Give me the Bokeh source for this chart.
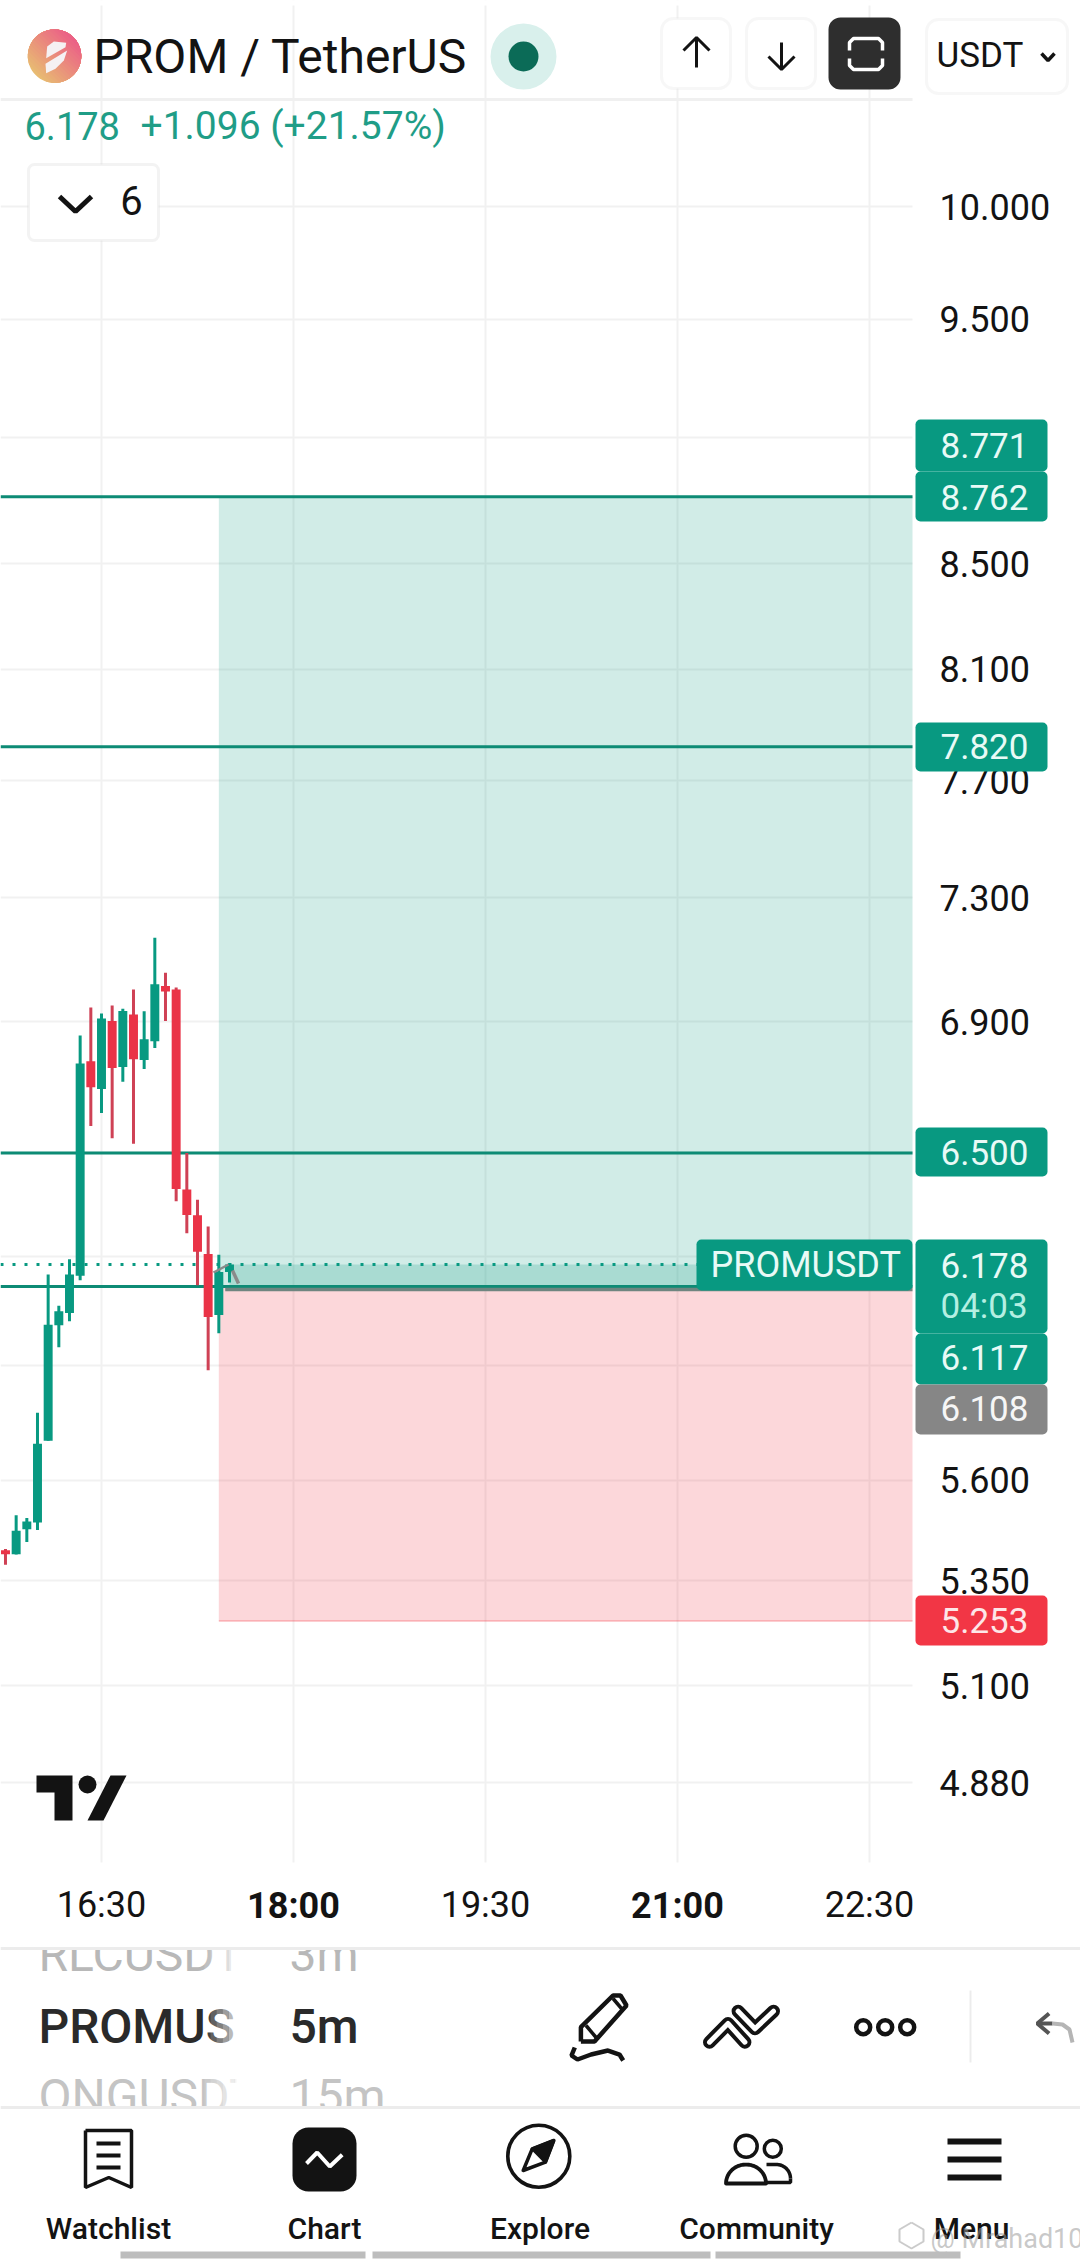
import numpy as np
from bokeh.core.properties import value
from bokeh.embed import file_html
from bokeh.models import (BoxAnnotation, FixedTicker, Label, LinearScale, PrintfTickFormatter, Range1d)
from bokeh.plotting import figure
from bokeh.resources import INLINE

# ---- chart values ----
times = ["15:45", "15:50", "15:55", "16:00", "16:05", "16:10", "16:15", "16:20", "16:25", "16:30", "16:35",
         "16:40", "16:45", "16:50", "16:55", "17:00", "17:05", "17:10", "17:15", "17:20", "17:25", "17:30"]
opens = [5.425, 5.415, 5.477, 5.494, 5.702, 6.010, 6.043, 6.147, 6.777, 6.692, 6.902,
         6.759, 6.923, 6.781, 6.839, 7.013, 7.002, 6.393, 6.318, 6.208, 6.038, 6.157]
highs = [5.428, 5.512, 5.505, 5.775, 6.150, 6.063, 6.193, 6.857, 6.945, 6.926, 6.951,
         6.941, 7.002, 6.933, 7.169, 7.056, 7.008, 6.500, 6.363, 6.286, 6.206, 6.182]
lows = [5.389, 5.414, 5.445, 5.475, 5.702, 5.950, 6.021, 6.134, 6.580, 6.619, 6.544,
        6.714, 6.527, 6.753, 6.818, 6.902, 6.359, 6.267, 6.120, 5.888, 5.988, 6.128]
closes = [5.415, 5.473, 5.496, 5.694, 6.011, 6.048, 6.150, 6.770, 6.697, 6.910, 6.756,
          6.934, 6.783, 6.845, 7.019, 6.996, 6.394, 6.319, 6.214, 6.032, 6.157, 6.178]

price_ticks = [10.0, 9.5, 9.0, 8.5, 8.1, 7.7, 7.3, 6.9, 6.5, 6.2, 5.9, 5.6, 5.35, 5.1, 4.88]
time_ticks = ["16:30", "18:00", "19:30", "21:00", "22:30"]
bold_time_ticks = ["18:00", "21:00"]

target_levels = [8.762, 7.820, 6.500, 6.117]
last_price = 6.178
entry_price = 6.117
avg_price = 6.108
target_price = 8.762
stop_price = 5.253
position_start = "17:25"
position_now = "17:30"

GREEN = "#089981"
RED = "#F23645"
LINE = "#0d8b75"
GRID = "#f1f1f1"
K = "#131313"
FONT = "Roboto"
FONT_M = "Roboto Medium"


def minutes(t):
    h, m = t.split(":")
    return int(h) * 60 + int(m)


xs = [minutes(t) for t in times]
up = [c >= o for o, c in zip(opens, closes)]

X_RIGHT = 1370.16   # time at the right edge of the plotting area
Y_BOTTOM = 4.7059   # price at the bottom edge of the plotting area

p = figure(width=1080, height=2261, output_backend="svg", toolbar_location=None,
           y_axis_type="log", y_axis_location="right",
           x_range=Range1d(942.66, 1448.91), y_range=Range1d(3.9245, 10.983),
           min_border_left=0, min_border_top=0, min_border_right=0, min_border_bottom=0,
           background_fill_color="white", border_fill_color="white", outline_line_color=None)

p.yaxis.fixed_location = X_RIGHT
p.xaxis.fixed_location = Y_BOTTOM
p.yaxis.ticker = FixedTicker(ticks=price_ticks)
p.yaxis.formatter = PrintfTickFormatter(format="%.3f")
p.yaxis.major_label_text_font = FONT
p.yaxis.major_label_text_font_size = "36px"
p.yaxis.major_label_text_color = K
p.yaxis.major_label_standoff = 21
p.xaxis.ticker = FixedTicker(ticks=[minutes(t) for t in time_ticks])
p.xaxis.major_label_overrides = {minutes(t): ("" if t in bold_time_ticks else t) for t in time_ticks}
p.xaxis.major_label_text_font = FONT
p.xaxis.major_label_text_font_size = "36px"
p.xaxis.major_label_text_color = K
p.xaxis.major_label_standoff = 15
for ax in (p.xaxis, p.yaxis):
    ax.axis_line_color = None
    ax.major_tick_line_color = None
    ax.minor_tick_line_color = None
for g in (p.xgrid, p.ygrid):
    g.grid_line_color = GRID
    g.grid_line_width = 2

p.extra_x_ranges["px"] = Range1d(0, 1080)
p.extra_y_ranges["px"] = Range1d(2261, 0)
p.extra_x_scales["px"] = LinearScale()
p.extra_y_scales["px"] = LinearScale()
PX = dict(x_range_name="px", y_range_name="px")

# white panels that end the grid at the price scale and the time scale
p.quad(left=[912, 0, 0], right=[1080, 1080, 1080], top=[0, 1862, 0], bottom=[1862, 2261, 5],
       fill_color="white", line_color=None, **PX)

x_end = X_RIGHT
x_start = p.x_range.start
# position tool
p.quad(left=minutes(position_start), right=x_end, top=target_price, bottom=entry_price,
       fill_color=GREEN, fill_alpha=0.19, line_color=None)
p.quad(left=minutes(position_start), right=x_end, top=entry_price, bottom=stop_price,
       fill_color=RED, fill_alpha=0.2, line_color=None)
p.segment(minutes(position_start), stop_price, x_end, stop_price, line_color=RED, line_alpha=0.25, line_width=2)
p.quad(left=minutes(position_now), right=x_end, top=last_price, bottom=entry_price,
       fill_color=GREEN, fill_alpha=0.2, line_color=None)

# price lines
p.segment([x_start] * len(target_levels), target_levels, [x_end] * len(target_levels), target_levels,
          line_color=LINE, line_width=3)
p.segment(minutes(position_now) - 2, avg_price, x_end, avg_price, line_color="#6f8580", line_width=3.5)
p.segment(x_start, last_price, x_end, last_price, line_color=GREEN, line_width=3, line_dash="3 9")

# candles
p.segment([x for x, u in zip(xs, up) if u], [h for h, u in zip(highs, up) if u],
          [x for x, u in zip(xs, up) if u], [l for l, u in zip(lows, up) if u],
          line_color=GREEN, line_width=3)
p.segment([x for x, u in zip(xs, up) if not u], [h for h, u in zip(highs, up) if not u],
          [x for x, u in zip(xs, up) if not u], [l for l, u in zip(lows, up) if not u],
          line_color="#cf4155", line_width=3)
p.vbar(x=xs, width=4.2, top=[max(o, c) for o, c in zip(opens, closes)],
       bottom=[min(o, c) for o, c in zip(opens, closes)],
       fill_color=[GREEN if u else "#ea3347" for u in up], line_color=None)
# small grey marker of the position tool
p.line([213, 228], [1272, 1264], line_color="#8a8a8a", line_width=2.5, **PX)
p.line([232, 238], [1270, 1283], line_color="#8a8a8a", line_width=3.5, **PX)

# TradingView mark
p.patch([36, 72, 72, 54, 54, 36], [1775, 1775, 1820, 1820, 1792, 1792], fill_color=K, line_color=None, **PX)
p.circle([87], [1784], radius=9, fill_color=K, line_color=None, **PX)
p.patch([110, 126, 103, 87], [1775, 1775, 1820, 1820], fill_color=K, line_color=None, **PX)

# header rule
p.line([0, 912], [99, 99], line_color="#f0f0f0", line_width=3, **PX)


def cbox(l, t, r, b, fill, line=None, lw=0, radius=0):
    p.add_layout(BoxAnnotation(left=l, right=r, top=t, bottom=b,
                               left_units="canvas", right_units="canvas", top_units="canvas", bottom_units="canvas",
                               fill_color=fill, fill_alpha=1, line_color=line, line_width=lw, border_radius=radius))


def clabel(x, y, text, size, color=K, align="left", style="normal", alpha=1.0, font=FONT):
    p.add_layout(Label(x=x, y=y, x_units="canvas", y_units="canvas", text=text, text_font=font,
                       text_font_size=f"{size}px", text_color=color, text_align=align, text_baseline="middle",
                       text_font_style=style, text_alpha=alpha, level="overlay"))


def icon(xp, yp, lw, color=K, **kw):
    p.line(list(xp), list(yp), line_color=color, line_width=lw, level="overlay", **PX, **kw)


# price tags
TAG_TXT = "#e8faf6"
cbox(915, 419, 1047, 471, GREEN, radius=5)
clabel(940, 445, "8.771", 35, TAG_TXT)
cbox(915, 471, 1047, 521, GREEN, radius=5)
clabel(940, 497, "8.762", 35, TAG_TXT)
cbox(915, 722, 1047, 771, GREEN, radius=5)
clabel(940, 746, "7.820", 35, TAG_TXT)
cbox(915, 1127, 1047, 1176, GREEN, radius=5)
clabel(940, 1152, "6.500", 35, TAG_TXT)
cbox(915, 1239, 1047, 1333, GREEN, radius=5)
clabel(940, 1265, "6.178", 35, TAG_TXT)
clabel(940, 1306, "04:03", 35, "#b4efe2")
cbox(915, 1333, 1047, 1384, GREEN, radius=5)
clabel(940, 1357, "6.117", 35, TAG_TXT)
cbox(915, 1384, 1047, 1434, "#868686", radius=5)
clabel(940, 1408, "6.108", 35, "#f6f6f6")
cbox(915, 1595, 1047, 1645, RED, radius=5)
clabel(940, 1620, "5.253", 35, "#fde6e8")
cbox(696, 1239, 912, 1290, GREEN, radius=5)
clabel(710, 1264, "PROMUSDT", 36, TAG_TXT)

# bold time ticks
for t in bold_time_ticks:
    clabel(101 + (minutes(t) - minutes(time_ticks[0])) * 192 / 90, 1905, t, 36, K, "center", "bold")

# header: logo with a diagonal gradient built from overlapping caps
cx, cy, r = 54, 55.7, 26.7
phi = np.pi / 4
c0, c1 = np.array([232, 200, 112]), np.array([236, 92, 136])
steps = 18
for i in range(steps):
    t = -1 + 2 * i / steps
    a0 = np.arccos(t)
    ang = np.linspace(-a0, a0, 60) + phi
    col = c0 + (c1 - c0) * (0.12 + 0.88 * i / steps)
    p.patch(list(cx + r * np.cos(ang)), list(cy - r * np.sin(ang)),
            fill_color="#%02x%02x%02x" % tuple(int(v) for v in col), line_color=None, **PX)
zx = lambda v: [10 + q / 3 for q in v]
p.patch(zx([107, 110, 130, 167, 165]), zx([143, 108, 93, 97, 110]), fill_color="#f5f1f3", line_color=None, **PX)
p.patch(zx([170, 160, 135, 107, 105]), zx([120, 150, 175, 188, 160]), fill_color="#f5f1f3", line_color=None, **PX)

clabel(93, 56, "PROM / TetherUS", 48)
p.circle([523], [56], radius=33, fill_color="#d9f0ec", line_color=None, **PX)
p.circle([523], [56], radius=15, fill_color="#0b6b57", line_color=None, **PX)
clabel(24, 125, "6.178", 38, "#1f9d87")
clabel(140, 125, "+1.096 (+21.57%)", 39, "#1f9d87")

# header buttons
cbox(28, 164, 158, 240, "white", "#d6d6d6", 3, 6)
cbox(661, 18, 730, 88, "white", "#e6e6e6", 3, 12)
cbox(746, 18, 815, 88, "white", "#e6e6e6", 3, 12)
cbox(828, 17, 900, 89, "#2e2e2e", None, 0, 12)
cbox(926, 19, 1067, 93, "white", "#e6e6e6", 3, 12)
clabel(936, 55, "USDT", 35)
clabel(131, 200, "6", 40, align="center")

icon([59, 75, 91], [196, 211, 196], 5)
icon([683, 696, 709], [50, 37, 50], 3)
icon([696, 696], [37, 67], 3)
icon([768, 781, 794], [56, 69, 56], 3)
icon([781, 781], [42, 69], 3)
icon([849, 849, 853, 878, 882, 882], [50, 42, 38, 38, 42, 50], 3.5, "white")
icon([849, 849, 853, 878, 882, 882], [58, 65, 69, 69, 65, 58], 3.5, "white")
icon([1041, 1047.5, 1054], [53, 60, 53], 3.5)


# ---- bottom application bar ----
def qtext(x, y, text, size, color=K, align="left", style="normal", alpha=1.0, font=FONT):
    p.text([x], [y], text=value(text), text_font=value(font), text_font_size=value(f"{size}px"), text_color=color,
           text_align=align, text_baseline="middle", text_font_style=style, text_alpha=alpha, **PX)


qtext(38, 1954, "RLCUSDT", 48, "#b8b8b8")
qtext(38, 2026, "PROMUS", 48, "#2a2a2a", font=FONT_M)
qtext(38, 2096, "ONGUSDT", 48, "#c4c4c4")
p.quad(left=[236], right=[285], top=[1947], bottom=[2106], fill_color="white", line_color=None, **PX)
for i, xx in enumerate([204, 210, 216, 222, 228, 234]):
    p.quad(left=[xx], right=[xx + 6], top=[1947], bottom=[2106], fill_color="white",
           fill_alpha=0.12 + 0.14 * i, line_color=None, **PX)
qtext(289, 1954, "3m", 48, "#b8b8b8")
qtext(289, 2026, "5m", 48, "#2a2a2a", font=FONT_M)
qtext(289, 2096, "15m", 48, "#c4c4c4")
p.quad(left=[0, 0], right=[1080, 1080], top=[1925, 2106], bottom=[1947, 2261], fill_color="white", line_color=None, **PX)
p.line([0, 1080], [1948, 1948], line_color="#ececec", line_width=3, **PX)
p.line([0, 1080], [2107, 2107], line_color="#ececec", line_width=3, **PX)
p.line([970, 970], [1990, 2062], line_color="#ececec", line_width=2, **PX)

# pencil
p.line([580.4, 580.4, 612.5, 620, 626, 594, 580.4], [2041, 2026.7, 1995, 1995, 2005, 2041, 2041], line_color=K, line_width=4.5, **PX)
p.line([612.5, 622.7], [1998, 2010], line_color=K, line_width=3.5, **PX)
p.line([585.5, 595.6], [2025, 2037], line_color=K, line_width=3.5, **PX)
p.line([574.3, 571, 577, 590.6, 607.5, 619, 622.7], [2047, 2055, 2059, 2054, 2050, 2054, 2060], line_color=K, line_width=4.5, **PX)
# double chevron
for xc, yc in (([709, 727.5, 744.4], [2041.7, 2023, 2041.7]), ([737.6, 754.5, 773], [2010.7, 2028.3, 2010.7])):
    p.line(xc, yc, line_color=K, line_width=13, line_cap="round", line_join="round", **PX)
    p.line(xc, yc, line_color="white", line_width=5, line_cap="round", line_join="round", **PX)
# dots
p.circle([862.7, 884.7, 906.7], [2026.7] * 3, radius=7, fill_color="white", line_color=K, line_width=4.5, **PX)
# undo
p.line([1048.6, 1036.8, 1048.6], [2013, 2023, 2033], line_color="#555555", line_width=4, **PX)
p.line([1036.8, 1052], [2023, 2023], line_color="#555555", line_width=4, **PX)
p.line([1052, 1062, 1069, 1072], [2023, 2024, 2029, 2042], line_color="#b5b5b5", line_width=4, **PX)
# watchlist
p.line([85, 131, 131, 108.3, 85, 85], [2130, 2130, 2187, 2177, 2187, 2130], line_color=K, line_width=3.5, **PX)
for yy in (2143, 2155, 2167):
    p.line([96, 120], [yy, yy], line_color=K, line_width=4, **PX)
# chart
cbox(292, 2127, 356, 2191, K, radius=16)
icon([306, 316.7, 329.3, 341.7], [2163, 2152, 2166, 2154.3], 4, "white")
# explore
p.circle([538.3], [2155.7], radius=31, fill_color="white", line_color=K, line_width=3.6, **PX)
p.patch([553.3, 531.7, 522.7, 545], [2140, 2148.3, 2170, 2161.7], fill_color="white", line_color=K, line_width=3.5,
        line_join="round", **PX)
p.patch([553.3, 531.7, 545], [2140, 2148.3, 2161.7], fill_color=K, line_color=K, line_width=3, line_join="round", **PX)
# community
ang = np.linspace(0, np.pi, 30)
p.circle([772.3], [2148.3], radius=8.5, fill_color="white", line_color=K, line_width=3.5, **PX)
p.line(list(776 + 14 * np.cos(ang[:16])) + [766], list(2178 - 14 * np.sin(ang[:16])) + [2164], line_color=K, line_width=3.5, **PX)
p.line([790, 790, 766], [2178, 2182, 2182], line_color=K, line_width=3.5, **PX)
xb = list(745.5 + 20 * np.cos(ang)) + [725.5, 765.5]
yb = list(2183 - 19 * np.sin(ang)) + [2183, 2183]
p.patch(xb, yb, fill_color="white", line_color=K, line_width=3.8, line_join="round", **PX)
p.circle([745.7], [2145.7], radius=11, fill_color="white", line_color=K, line_width=3.5, **PX)
# menu
for yy in (2141, 2159, 2177):
    p.line([947, 1001], [yy, yy], line_color=K, line_width=6, **PX)

for lx, name in ((108, "Watchlist"), (324, "Chart"), (539.5, "Explore"), (756, "Community"), (971, "Menu")):
    qtext(lx, 2228, name, 30, K, "center", font=FONT_M)

# watermark
p.line([911, 923, 923, 911, 899, 899, 911], [2222, 2229, 2241, 2248, 2241, 2229, 2222], line_color="#b5b5b5", line_width=2, line_alpha=0.7, **PX)
qtext(930, 2238, "@ Mrahad10", 27, "#9a9a9a", alpha=0.55)

# home indicator
for a, b in ((120, 365), (372, 710), (715, 960)):
    p.quad(left=[a], right=[b], top=[2251], bottom=[2258], fill_color="#bdbdbd", line_color=None, **PX)

open("out.html", "w").write(file_html(p, INLINE))
